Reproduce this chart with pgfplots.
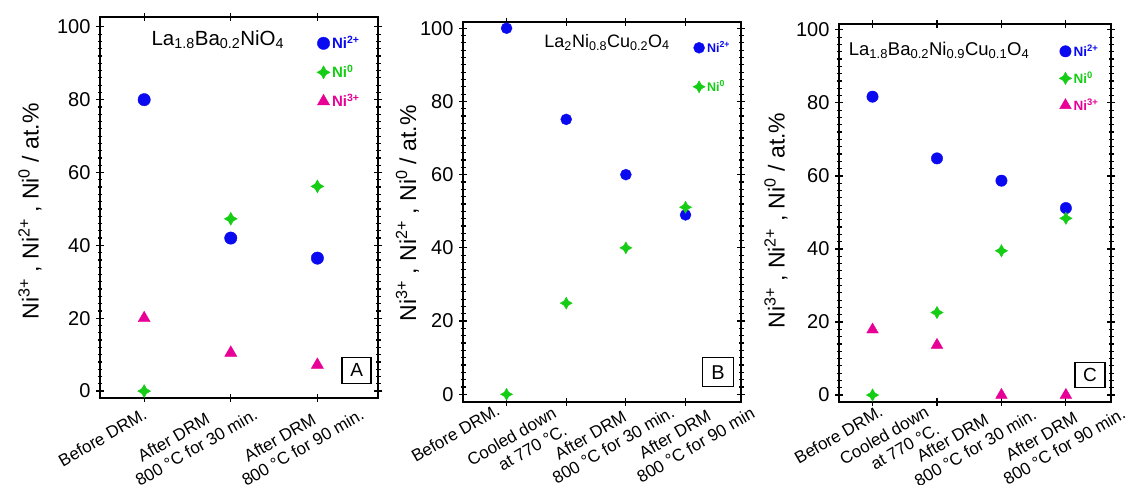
\documentclass[border=0pt]{standalone}
\usepackage{fontspec}
\setmainfont{Liberation Sans}
\usepackage{pgfplots}
\usepackage{pgfplotstable}
\pgfplotsset{compat=1.18}
\definecolor{niblue}{RGB}{10,10,240}
\definecolor{nigreen}{RGB}{20,205,20}
\definecolor{nipink}{RGB}{232,0,150}

\pgfdeclareplotmark{fourstar}{%
  \pgfpathmoveto{\pgfqpoint{0pt}{\pgfplotmarksize}}%
  \pgfpathlineto{\pgfqpoint{0.36\pgfplotmarksize}{0.36\pgfplotmarksize}}%
  \pgfpathlineto{\pgfqpoint{\pgfplotmarksize}{0pt}}%
  \pgfpathlineto{\pgfqpoint{0.36\pgfplotmarksize}{-0.36\pgfplotmarksize}}%
  \pgfpathlineto{\pgfqpoint{0pt}{-\pgfplotmarksize}}%
  \pgfpathlineto{\pgfqpoint{-0.36\pgfplotmarksize}{-0.36\pgfplotmarksize}}%
  \pgfpathlineto{\pgfqpoint{-\pgfplotmarksize}{0pt}}%
  \pgfpathlineto{\pgfqpoint{-0.36\pgfplotmarksize}{0.36\pgfplotmarksize}}%
  \pgfpathclose
  \pgfusepathqfillstroke
}

% rotated tick label: shift along the text (#1) and perpendicular (#2), lines in #3
\newcommand{\xlab}[3]{\makebox[0pt][l]{\hspace*{#1pt}\raisebox{#2pt}{\begin{tabular}[t]{@{}l@{}}#3\end{tabular}}}}

\pgfplotstableread{
x ni2 ni0 ni3
0 80.0 0 20.0
1 42.0 47.3 10.5
2 36.5 56.2 7.2
}\dataA
\pgfplotstableread{
x ni2 ni0
0 100 0
1 75.1 24.9
2 60.0 40.0
3 49.0 51.1
}\dataB
\pgfplotstableread{
x ni2 ni0 ni3
0 81.7 0 17.9
1 64.8 22.6 13.7
2 58.7 39.5 0
3 51.2 48.4 0
}\dataC

\pgfplotsset{
  onlypt/.style={only marks, legend image code/.code={\draw[##1,/tikz/only marks] plot coordinates {(0pt,0pt)};}},
  panel/.style={
    scale only axis,
    anchor=south west,
    /pgf/number format/assume math mode=true,
    axis line style={line width=1.2pt},
    every tick/.style={black, line width=1.2pt},
    tick align=center,
    major tick length=8pt,
    minor tick length=5pt,
    ymin=-1.9, ymax=102.7,
    ytick={0,20,40,60,80,100},
    minor y tick num=9,
    yticklabel style={font=\fontsize{20}{20}\selectfont, xshift=-2pt},
    xticklabel style={rotate=30, anchor=base, inner sep=0pt, outer sep=0pt,
       font=\fontsize{17}{20}\selectfont},
    ylabel={Ni\textsuperscript{3+} , Ni\textsuperscript{2+} , Ni\textsuperscript{0} / at.\%},
    ylabel style={font=\fontsize{23}{26}\selectfont, anchor=center},
    legend cell align=left,
    legend style={draw=none, fill=none, inner sep=0pt, anchor=north west,
       /tikz/every even column/.style={column sep=5pt}},
    clip=false,
  },
}

\begin{document}
\begin{tikzpicture}
\useasboundingbox (0pt,0pt) rectangle (1131pt,484pt);

% Panel A
\begin{axis}[panel, at={(100pt,86pt)}, width=278pt, height=381pt,
  xmin=-0.51, xmax=2.7, xtick={0,1,2},
  xticklabels={
    {\xlab{-103}{-16}{Before DRM.}},
    {\xlab{-121}{-8}{\hspace*{14pt}After DRM\\800 °C for 30 min.}},
    {\xlab{-104}{-18}{\hspace*{14pt}After DRM\\800 °C for 90 min.}}},
  ylabel style={at={(axis description cs:-0.252,0.49)}},
  legend style={at={(axis description cs:0.78,0.955)}, font=\fontsize{15}{15}\selectfont\bfseries,
     row sep=11pt, nodes={text height=12pt, text depth=2pt}},
]
\addplot[onlypt, color=niblue, mark=*, mark size=6.2pt] table[x=x, y=ni2] {\dataA};
\addlegendentry{\textcolor{niblue}{Ni\textsuperscript{2+}}}
\addplot[onlypt, color=nigreen, mark=fourstar, mark size=6.5pt] table[x=x, y=ni0] {\dataA};
\addlegendentry{\textcolor{nigreen}{Ni\textsuperscript{0}}}
\addplot[onlypt, color=nipink, mark=triangle*, mark size=7pt] table[x=x, y=ni3] {\dataA};
\addlegendentry{\textcolor{nipink}{Ni\textsuperscript{3+}}}
\node[font=\fontsize{20.5}{20.5}\selectfont] at (axis description cs:0.424,0.94) {La\textsubscript{1.8}Ba\textsubscript{0.2}NiO\textsubscript{4}};
\node[draw, line width=1.2pt, minimum width=29pt, minimum height=26pt, inner sep=0pt, font=\fontsize{19}{19}\selectfont] at (axis description cs:0.923,0.073) {A};
\end{axis}

% Panel B
\begin{axis}[panel, at={(463pt,82pt)}, width=278pt, height=380pt,
  xmin=-0.73, xmax=3.93, xtick={0,1,2,3}, ymin=-2.1, ymax=101.7,
  xticklabels={
    {\xlab{-107}{-4}{Before DRM.}},
    {\xlab{-112}{-5}{Cooled down\\\hspace*{24pt}at 770 °C.}},
    {\xlab{-99}{-13.5}{\hspace*{14pt}After DRM\\800 °C for 30 min.}},
    {\xlab{-77}{-25}{\hspace*{14pt}After DRM\\800 °C for 90 min}}},
  ylabel style={at={(axis description cs:-0.20,0.497)}},
  legend style={at={(axis description cs:0.827,0.955)}, font=\fontsize{12.5}{12.5}\selectfont\bfseries,
     row sep=22pt, nodes={text height=11pt, text depth=2pt}},
]
\addplot[onlypt, color=niblue, mark=*, mark size=5.5pt] table[x=x, y=ni2] {\dataB};
\addlegendentry{\textcolor{niblue}{Ni\textsuperscript{2+}}}
\addplot[onlypt, color=nigreen, mark=fourstar, mark size=6pt] table[x=x, y=ni0] {\dataB};
\addlegendentry{\textcolor{nigreen}{Ni\textsuperscript{0}}}
\node[font=\fontsize{18}{18}\selectfont] at (axis description cs:0.518,0.947) {La\textsubscript{2}Ni\textsubscript{0.8}Cu\textsubscript{0.2}O\textsubscript{4}};
\node[draw, line width=1.2pt, minimum width=31pt, minimum height=29pt, inner sep=0pt, font=\fontsize{20}{20}\selectfont] at (axis description cs:0.917,0.078) {B};
\end{axis}

% Panel C
\begin{axis}[panel, at={(839pt,82pt)}, width=272pt, height=378pt,
  xmin=-0.52, xmax=3.70, xtick={0,1,2,3}, ymin=-1.9, ymax=101.6,
  xticklabels={
    {\xlab{-93}{-14}{Before DRM.}},
    {\xlab{-110}{-5}{Cooled down\\\hspace*{24pt}at 770 °C.}},
    {\xlab{-112}{-9}{\hspace*{14pt}After DRM\\800 °C for 30 min.}},
    {\xlab{-90}{-20}{\hspace*{14pt}After DRM\\800 °C for 90 min.}}},
  ylabel style={at={(axis description cs:-0.232,0.48)}},
  legend style={at={(axis description cs:0.809,0.952)}, font=\fontsize{13.5}{13.5}\selectfont\bfseries,
     row sep=9pt, nodes={text height=12pt, text depth=2pt}},
]
\addplot[onlypt, color=niblue, mark=*, mark size=5.7pt] table[x=x, y=ni2] {\dataC};
\addlegendentry{\textcolor{niblue}{Ni\textsuperscript{2+}}}
\addplot[onlypt, color=nigreen, mark=fourstar, mark size=6.2pt] table[x=x, y=ni0] {\dataC};
\addlegendentry{\textcolor{nigreen}{Ni\textsuperscript{0}}}
\addplot[onlypt, color=nipink, mark=triangle*, mark size=6.7pt] table[x=x, y=ni3] {\dataC};
\addlegendentry{\textcolor{nipink}{Ni\textsuperscript{3+}}}
\node[font=\fontsize{18.5}{18.5}\selectfont] at (axis description cs:0.368,0.931) {La\textsubscript{1.8}Ba\textsubscript{0.2}Ni\textsubscript{0.9}Cu\textsubscript{0.1}O\textsubscript{4}};
\node[draw, line width=1.2pt, minimum width=30pt, minimum height=25pt, inner sep=0pt, font=\fontsize{19}{19}\selectfont] at (axis description cs:0.923,0.071) {C};
\end{axis}
\end{tikzpicture}
\end{document}
